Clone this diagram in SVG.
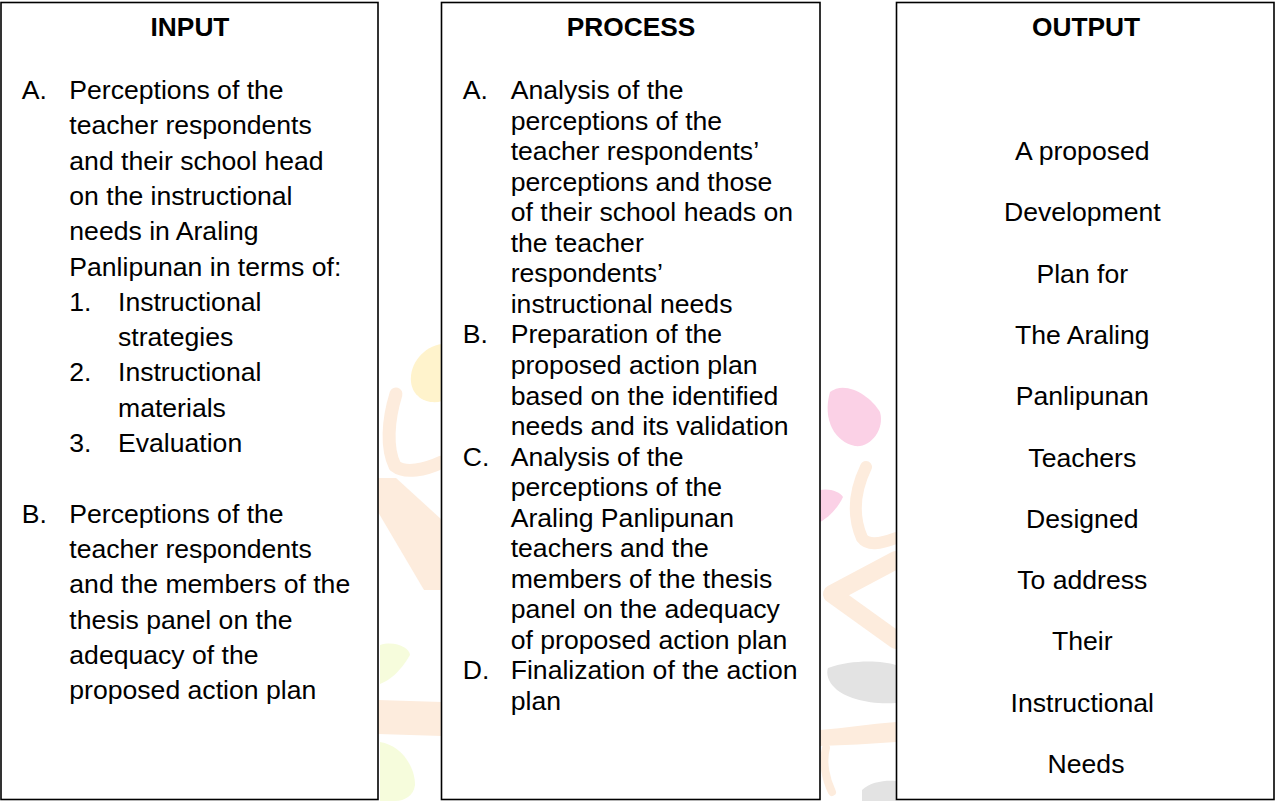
<svg xmlns="http://www.w3.org/2000/svg" width="1276" height="801" viewBox="0 0 1276 801">
<style>
.box{fill:#fff;stroke:#000;stroke-width:1.6}
.t{font-family:"Liberation Sans",Arial,sans-serif;font-size:26.6px;fill:#000}
.h{font-family:"Liberation Sans",Arial,sans-serif;font-size:26.3px;font-weight:bold;fill:#000;text-anchor:middle}
.c{text-anchor:middle}
.y{fill:#fff3cc}
.o{fill:#fdecdd}
.os{fill:none;stroke:#fdecdd;stroke-linecap:round;stroke-linejoin:round}
.p{fill:#fbd1e6}
.g{fill:#e3e3e3}
.gr{fill:#f6fcdc}
</style>
<rect width="1276" height="801" fill="#fff"/>
<g id="watermark">
<path class="y" d="M442,344 C424,346 409,364 411,382 C413,399 430,405 442,401 Z"/>
<path class="os" stroke-width="13" d="M396,394 C388,420 386,448 395,466 C405,474 425,470 442,462"/>
<polygon class="o" points="378,478 396,478 442,520 442,590 424,590 378,512"/>
<path class="gr" d="M380,645 C395,640 410,648 410,655 C400,672 390,680 380,684 Z"/>
<path class="o" d="M378,700 L442,702 L442,736 L378,734 Z"/>
<path class="gr" d="M380,742 C400,745 415,765 415,785 C414,795 405,801 395,801 L380,801 Z"/>
<path class="p" d="M830,392 C845,380 870,395 880,412 C885,430 870,448 855,446 C835,442 822,420 830,392 Z"/>
<path class="p" d="M820,490 C830,488 840,492 843,497 C838,508 828,518 820,522 Z"/>
<path class="os" stroke-width="12" d="M866,467 C855,490 852,515 862,538 C868,546 880,544 896,538"/>
<path class="os" stroke-width="18" d="M896,560 L832,594 L896,640"/>
<path class="g" d="M828,668 C850,660 880,660 896,665 L896,703 C870,705 845,698 835,688 C828,682 826,673 828,668 Z"/>
<path class="o" d="M820,730 C845,728 870,724 896,722 L896,742 C870,744 845,745 820,746 Z"/>
<path class="os" stroke-width="8" d="M826,748 C822,762 826,780 832,792"/>
<path class="g" d="M862,790 C870,782 885,780 896,781 L896,801 L862,801 Z"/>
</g>
<g id="input">
<rect class="box" x="1" y="2.5" width="377" height="797"/>
<text class="h" x="190" y="36">INPUT</text>
<text class="t">
<tspan x="21.7" y="99">A.</tspan><tspan x="69.3" y="99">Perceptions of the</tspan>
<tspan x="69.3" y="134.3">teacher respondents</tspan>
<tspan x="69.3" y="169.6">and their school head</tspan>
<tspan x="69.3" y="204.9">on the instructional</tspan>
<tspan x="69.3" y="240.2">needs in Araling</tspan>
<tspan x="69.3" y="275.5">Panlipunan in terms of:</tspan>
<tspan x="69.3" y="310.8">1.</tspan><tspan x="118" y="310.8">Instructional</tspan>
<tspan x="118" y="346.1">strategies</tspan>
<tspan x="69.3" y="381.4">2.</tspan><tspan x="118" y="381.4">Instructional</tspan>
<tspan x="118" y="416.7">materials</tspan>
<tspan x="69.3" y="452">3.</tspan><tspan x="118" y="452">Evaluation</tspan>
<tspan x="21.7" y="522.6">B.</tspan><tspan x="69.3" y="522.6">Perceptions of the</tspan>
<tspan x="69.3" y="557.9">teacher respondents</tspan>
<tspan x="69.3" y="593.2">and the members of the</tspan>
<tspan x="69.3" y="628.5">thesis panel on the</tspan>
<tspan x="69.3" y="663.8">adequacy of the</tspan>
<tspan x="69.3" y="699.1">proposed action plan</tspan>
</text>
</g>
<g id="process">
<rect class="box" x="441.5" y="2.5" width="378.5" height="797"/>
<text class="h" x="631" y="36">PROCESS</text>
<text class="t">
<tspan x="462.7" y="99">A.</tspan><tspan x="510.7" y="99">Analysis of the</tspan>
<tspan x="510.7" y="129.55">perceptions of the</tspan>
<tspan x="510.7" y="160.1">teacher respondents’</tspan>
<tspan x="510.7" y="190.65">perceptions and those</tspan>
<tspan x="510.7" y="221.2">of their school heads on</tspan>
<tspan x="510.7" y="251.75">the teacher</tspan>
<tspan x="510.7" y="282.3">respondents’</tspan>
<tspan x="510.7" y="312.85">instructional needs</tspan>
<tspan x="462.7" y="343.4">B.</tspan><tspan x="510.7" y="343.4">Preparation of the</tspan>
<tspan x="510.7" y="373.95">proposed action plan</tspan>
<tspan x="510.7" y="404.5">based on the identified</tspan>
<tspan x="510.7" y="435.05">needs and its validation</tspan>
<tspan x="462.7" y="465.6">C.</tspan><tspan x="510.7" y="465.6">Analysis of the</tspan>
<tspan x="510.7" y="496.15">perceptions of the</tspan>
<tspan x="510.7" y="526.7">Araling Panlipunan</tspan>
<tspan x="510.7" y="557.25">teachers and the</tspan>
<tspan x="510.7" y="587.8">members of the thesis</tspan>
<tspan x="510.7" y="618.35">panel on the adequacy</tspan>
<tspan x="510.7" y="648.9">of proposed action plan</tspan>
<tspan x="462.7" y="679.45">D.</tspan><tspan x="510.7" y="679.45">Finalization of the action</tspan>
<tspan x="510.7" y="710">plan</tspan>
</text>
</g>
<g id="output">
<rect class="box" x="896.5" y="2.5" width="377.5" height="797"/>
<text class="h" x="1086" y="36">OUTPUT</text>
<text class="t c">
<tspan x="1086" y="160">A proposed</tspan>
<tspan x="1086" y="221.3">Development</tspan>
<tspan x="1086" y="282.6">Plan for</tspan>
<tspan x="1086" y="343.9">The Araling</tspan>
<tspan x="1086" y="405.2">Panlipunan</tspan>
<tspan x="1086" y="466.5">Teachers</tspan>
<tspan x="1086" y="527.8">Designed</tspan>
<tspan x="1086" y="589.1">To address</tspan>
<tspan x="1086" y="650.4">Their</tspan>
<tspan x="1086" y="711.7">Instructional</tspan>
<tspan x="1086" y="773">Needs</tspan>
</text>
</g>
<g id="connectors"></g>
</svg>
